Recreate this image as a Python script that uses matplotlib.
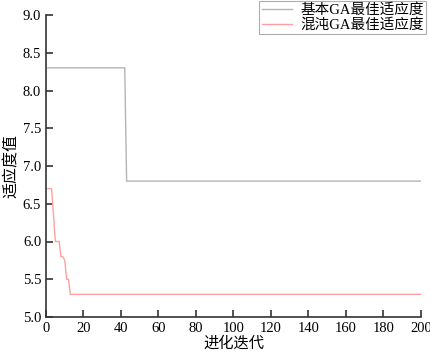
import numpy as np
import matplotlib
matplotlib.use("Agg")
import matplotlib.pyplot as plt

# Data
iters = list(range(1, 201))
basic_ga = [8.3] * 42 + [6.8] * 158
chaos_head = [6.7, 6.7, 6.7, 6.35, 6.0, 6.0, 6.0, 5.8, 5.8, 5.75, 5.5, 5.5]
chaos_ga = chaos_head + [5.3] * (200 - len(chaos_head))
series_labels = ["基本GA最佳适应度", "混沌GA最佳适应度"]
xticks = list(range(0, 201, 20))
yticks = [5.0, 5.5, 6.0, 6.5, 7.0, 7.5, 8.0, 8.5, 9.0]

cjk = ["Liberation Serif", "Noto Sans CJK SC"]
plt.rcParams["font.family"] = cjk

fig = plt.figure(figsize=(4.31, 3.59), dpi=100)
ax = fig.add_axes([46/431, 1-317/359, (421-46)/431, (317-15)/359])

ax.plot(iters, basic_ga, color="#b4b4b4", lw=1.0, label=series_labels[0])
ax.plot(iters, chaos_ga, color="#ffa0a0", lw=1.0, label=series_labels[1])

ax.set_xlim(0, 200)
ax.set_ylim(5.0, 9.0)
ax.set_xticks(xticks)
ax.set_yticks(yticks)
ax.set_yticklabels([f"{v:.1f}" for v in yticks])
for s in ["top", "right"]:
    ax.spines[s].set_visible(False)
for s in ["left", "bottom"]:
    ax.spines[s].set_linewidth(1.2)
    ax.spines[s].set_color("#333333")
ax.tick_params(direction="in", length=5, width=1.2, labelsize=10.5, color="#333333")
ax.set_xlabel("进化迭代", fontsize=11, labelpad=1)
ax.set_ylabel("适应度值", fontsize=11.5, labelpad=2)

leg = fig.legend(loc="upper right", bbox_to_anchor=(426/431, 1-1/359),
                 fontsize=10.5, frameon=True, fancybox=False,
                 handlelength=2.1, handletextpad=0.55, borderpad=0.15,
                 labelspacing=0.1, borderaxespad=0)
leg.get_frame().set_edgecolor("#999999")
leg.get_frame().set_linewidth(0.8)

fig.savefig("out.png", dpi=100)
